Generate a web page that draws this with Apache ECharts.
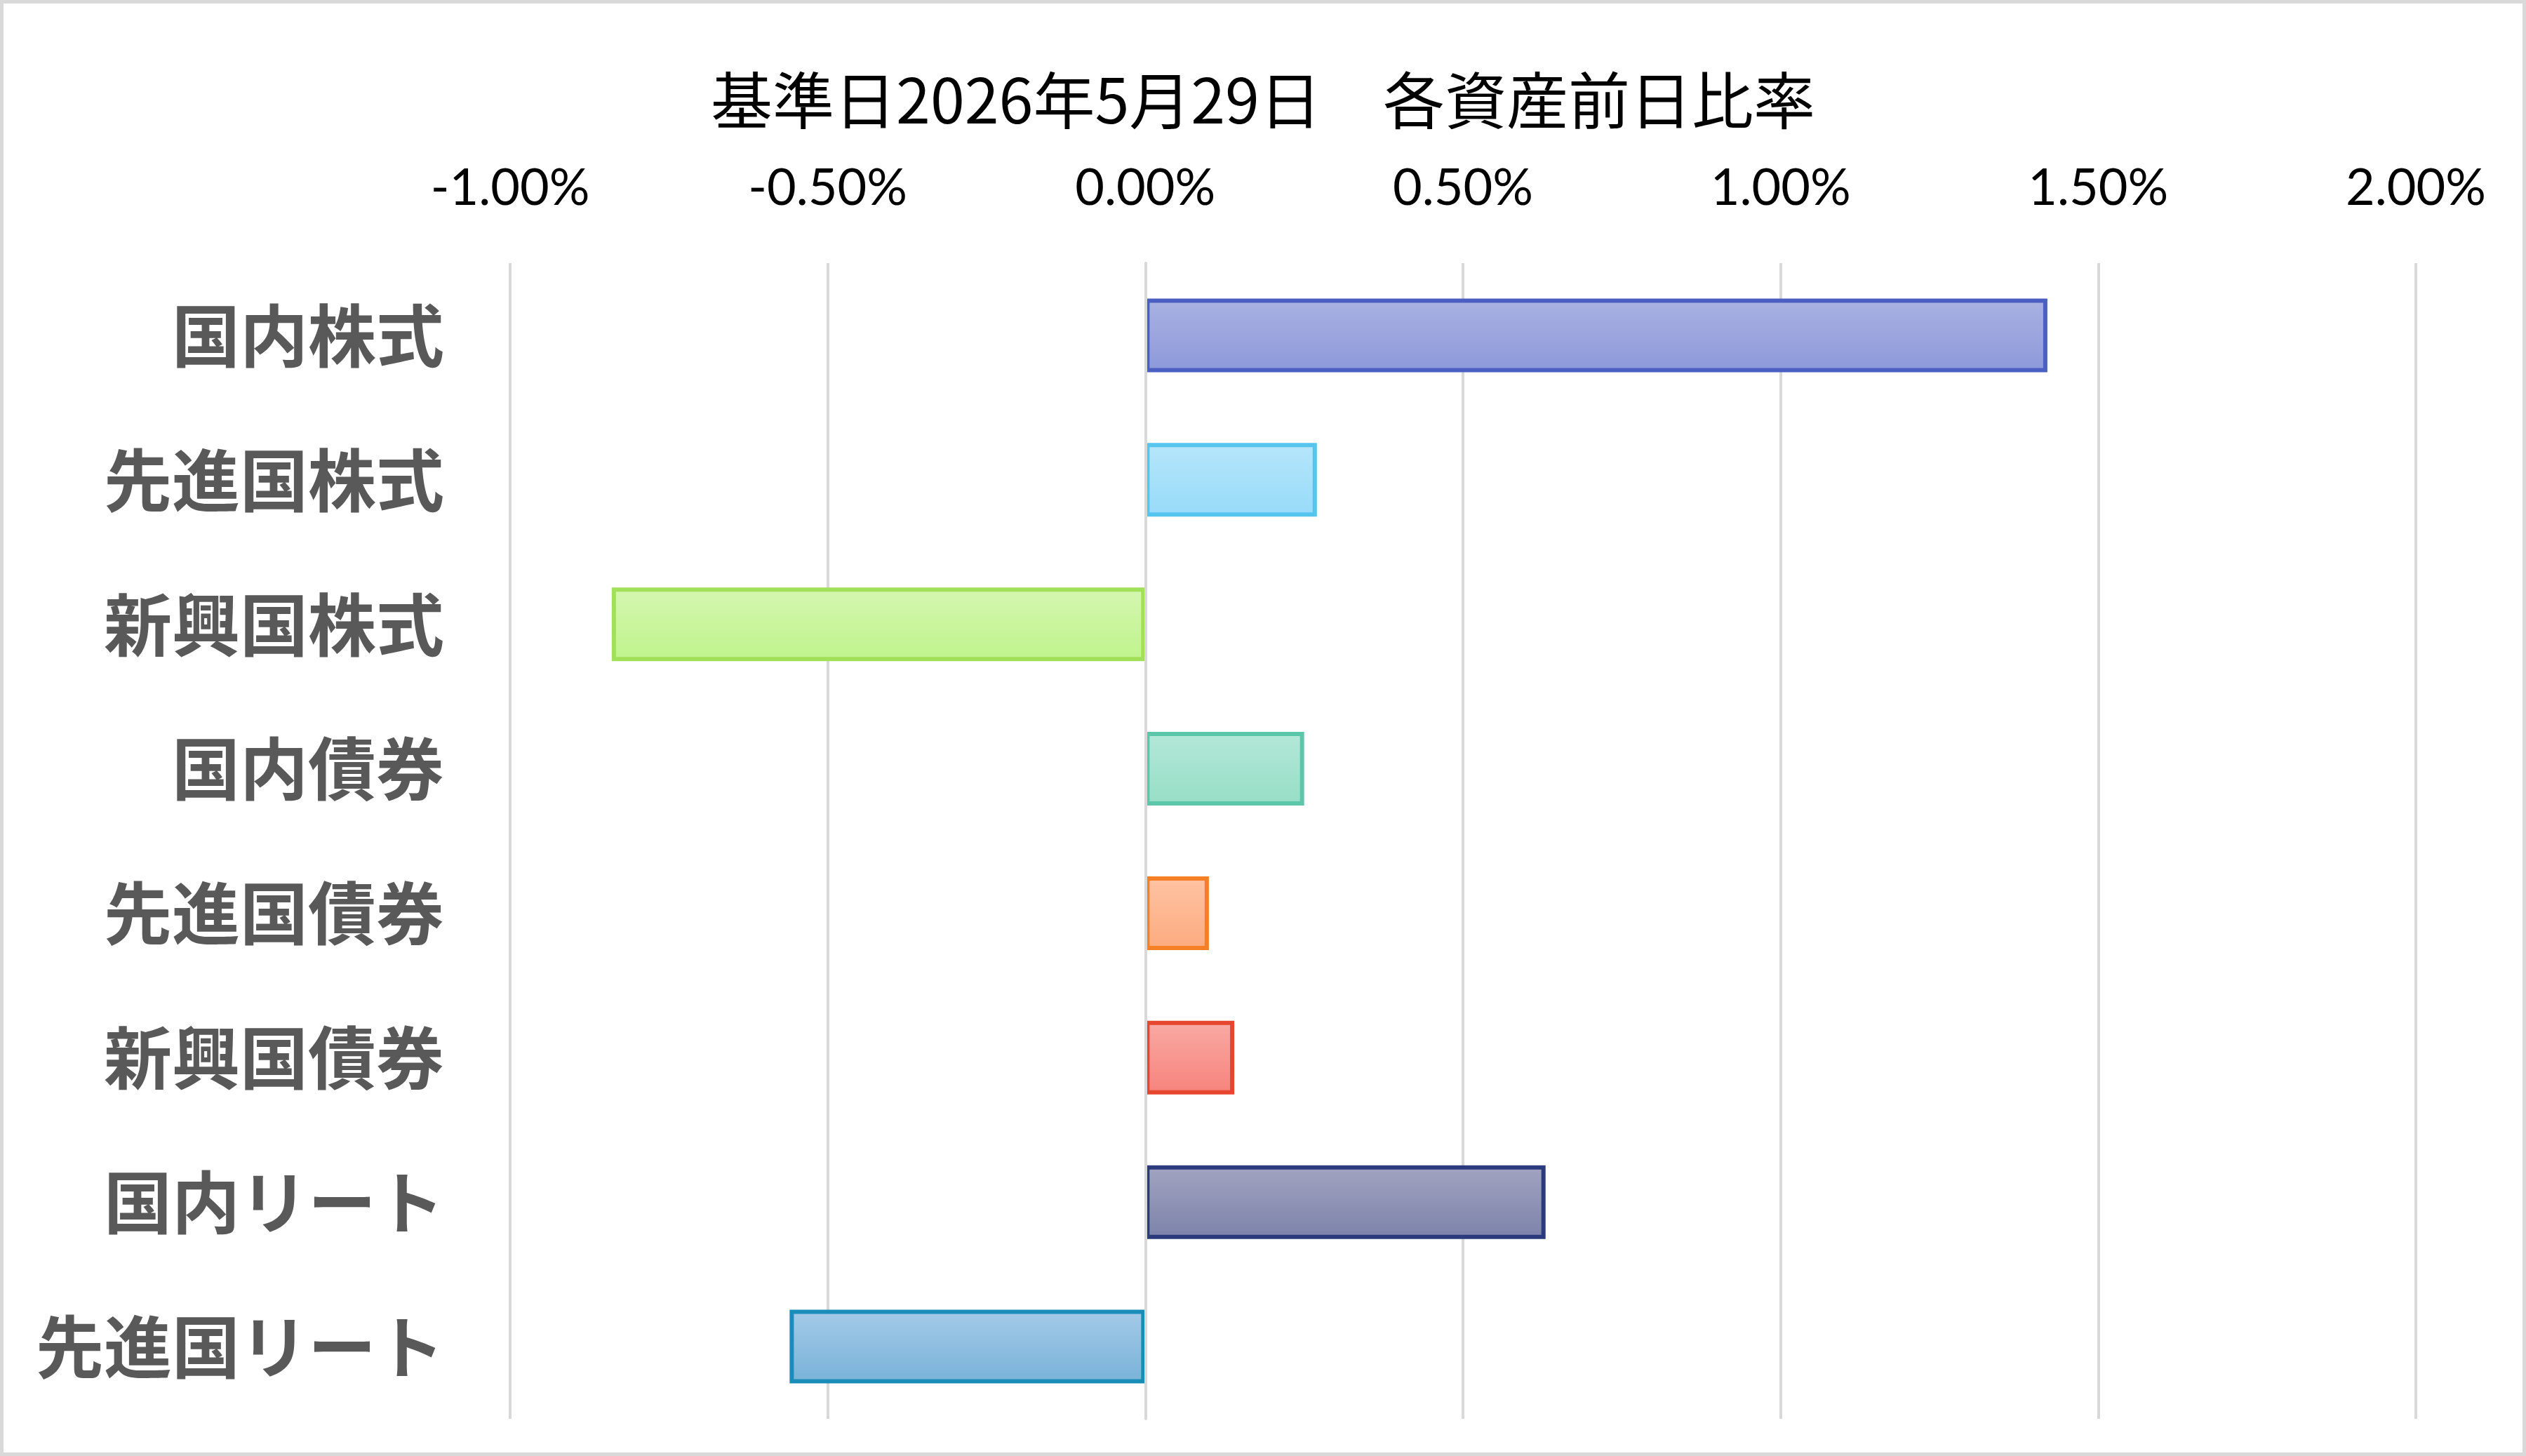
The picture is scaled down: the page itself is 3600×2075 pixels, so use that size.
<!DOCTYPE html>
<html>
<head>
<meta charset="utf-8">
<script src="https://cdn.jsdelivr.net/npm/echarts@6/dist/echarts.min.js"></script>
<style>
html,body{margin:0;padding:0;background:#fff;}
#chart{width:3600px;height:2075px;}
</style>
</head>
<body>
<div id="chart"></div>
<script>
const titleText = '基準日2026年5月29日　各資産前日比率';
const categories = ['国内株式','先進国株式','新興国株式','国内債券','先進国債券','新興国債券','国内リート','先進国リート'];
const values = [1.42, 0.27, -0.84, 0.25, 0.10, 0.14, 0.63, -0.56];
const tickMin = -1, tickMax = 2, tickStep = 0.5;
const fillTop    = ['#aab2e2','#b6e6fa','#d5f6b0','#b4e8d8','#ffc4a4','#f9aaa4','#a2a4c0','#a4cae8'];
const fillBottom = ['#8d98da','#97dbf9','#bff48c','#96dec6','#fcaa7e','#f7827c','#7c82aa','#78b2d8'];
const borderCols = ['#4a5fc1','#55c4ee','#a2e05a','#5cc7a8','#f47f24','#e6452e','#2a3a7c','#1a8cba'];

const chart = echarts.init(document.getElementById('chart'), null, {renderer:'canvas'});
const data = values.map((v,i)=>({
  value: v,
  itemStyle: {
    color: new echarts.graphic.LinearGradient(0,0,0,1,[{offset:0,color:fillTop[i]},{offset:1,color:fillBottom[i]}]),
    borderColor: borderCols[i],
    borderWidth: 6
  }
}));
chart.setOption({
  backgroundColor:'#fff',
  animation:false,
  graphic:[{type:'rect',shape:{x:2.5,y:2.5,width:3595,height:2070},style:{fill:'none',stroke:'#d9d9d9',lineWidth:5},z:100}],
  title:{
    text:titleText,left:'center',top:94,
    textStyle:{fontFamily:'Noto Sans CJK JP',fontSize:88,fontWeight:'normal',color:'#000'}
  },
  grid:{left:727,right:157,top:375,bottom:53,containLabel:false},
  xAxis:{
    type:'value',position:'top',min:tickMin,max:tickMax,interval:tickStep,
    axisLine:{show:false},axisTick:{show:false},
    splitLine:{show:true,lineStyle:{color:'#d9d9d9',width:4}},
    axisLabel:{formatter:v=>v.toFixed(2)+'%',fontFamily:'Lato',fontSize:72,color:'#000',margin:70}
  },
  yAxis:{
    type:'category',data:categories,inverse:true,z:10,
    axisLine:{show:true,onZero:true,lineStyle:{color:'#d9d9d9',width:4}},
    axisTick:{show:false},
    axisLabel:{fontFamily:'Noto Sans CJK JP',fontWeight:'bold',fontSize:97,color:'#595959',margin:94,padding:[0,0,8,0]}
  },
  series:[{type:'bar',data:data,barWidth:'51%'}]
});
</script>
</body>
</html>
